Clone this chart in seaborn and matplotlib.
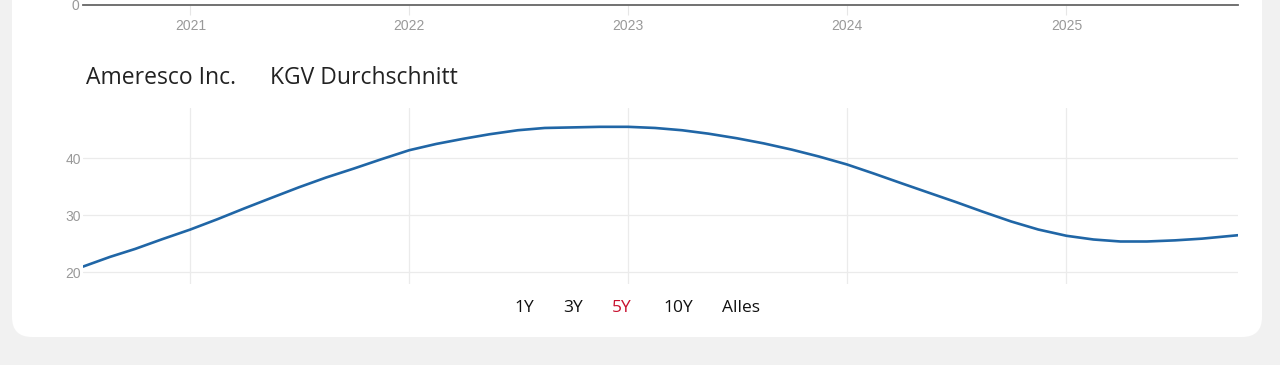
import matplotlib
matplotlib.use("Agg")
import matplotlib.pyplot as plt
from matplotlib.patches import FancyBboxPatch
import pandas as pd
import seaborn as sns

# ---- data ----
dates = ["2020-07-06", "2020-08-20", "2020-10-01", "2020-11-15", "2021-01-01",
         "2021-02-15", "2021-04-01", "2021-05-15", "2021-07-01", "2021-08-15",
         "2021-10-01", "2021-11-15", "2022-01-01", "2022-02-15", "2022-04-01",
         "2022-05-15", "2022-07-01", "2022-08-15", "2022-10-01", "2022-11-15",
         "2023-01-01", "2023-02-15", "2023-04-01", "2023-05-15", "2023-07-01",
         "2023-08-15", "2023-10-01", "2023-11-15", "2024-01-01", "2024-02-15",
         "2024-04-01", "2024-05-15", "2024-07-01", "2024-08-15", "2024-10-01",
         "2024-11-15", "2025-01-01", "2025-02-15", "2025-04-01", "2025-05-15",
         "2025-07-01", "2025-08-15", "2025-10-14"]
kgv = [21.0, 22.7, 24.1, 25.8, 27.5,
       29.3, 31.2, 33.0, 34.9, 36.6,
       38.2, 39.8, 41.4, 42.5, 43.4,
       44.2, 44.9, 45.3, 45.4, 45.5,
       45.5, 45.3, 44.9, 44.3, 43.5,
       42.6, 41.5, 40.3, 38.9, 37.3,
       35.6, 34.0, 32.3, 30.6, 28.9,
       27.5, 26.4, 25.75, 25.4, 25.4,
       25.6, 25.9, 26.5]
year_ticks = ["2021", "2022", "2023", "2024", "2025"]
y_ticks = [20, 30, 40]
company = "Ameresco Inc."
metric = "KGV Durchschnitt"
buttons = ["1Y", "3Y", "5Y", "10Y", "Alles"]
active_button = "5Y"

df = pd.DataFrame({"Datum": pd.to_datetime(dates), "KGV": kgv})

sns.set_theme(style="white")
plt.rcParams["font.family"] = ["Open Sans", "DejaVu Sans"]
TICK_FONT = ["Liberation Sans", "DejaVu Sans"]

W, H = 1280, 365
fig = plt.figure(figsize=(W / 100, H / 100), dpi=100)
fig.patch.set_facecolor("#f1f1f1")

# background card
bg = fig.add_axes([0, 0, 1, 1], zorder=-5)
bg.set_xlim(0, W)
bg.set_ylim(H, 0)
bg.axis("off")
bg.add_patch(FancyBboxPatch((12, -60), 1250, 397,
                            boxstyle="round,pad=0,rounding_size=20",
                            facecolor="white", edgecolor="none"))


def px_rect(x0, y0, x1, y1):
    return [x0 / W, 1 - y1 / H, (x1 - x0) / W, (y1 - y0) / H]


xmin = pd.Timestamp("2020-07-06")
xmax = pd.Timestamp("2025-10-14")
tick_dates = pd.to_datetime([f"{y}-01-01" for y in year_ticks])

# ---- top (partially visible) chart ----
axt = fig.add_axes(px_rect(83, -100, 1238, 5))
axt.set_facecolor("none")
axt.set_xlim(xmin, xmax)
axt.set_ylim(0, 10)
for s in ["top", "right", "left"]:
    axt.spines[s].set_visible(False)
axt.spines["bottom"].set_color("#666666")
axt.spines["bottom"].set_linewidth(1.3)
axt.set_xticks(tick_dates)
axt.set_xticklabels(year_ticks, family=TICK_FONT)
axt.set_yticks([0])
axt.set_yticklabels(["0"], family=TICK_FONT)
axt.tick_params(axis="x", length=7.5, width=0.8, color="#e6e6e6",
                labelsize=10, labelcolor="#999999", pad=2.5, bottom=True)
axt.tick_params(axis="y", length=0, labelsize=10, labelcolor="#999999", pad=3, left=True)
axt.grid(False)

# ---- main chart ----
ax = fig.add_axes(px_rect(83, 108, 1238, 284))
ax.set_facecolor("none")
sns.lineplot(data=df, x="Datum", y="KGV", ax=ax, color="#2066a6", linewidth=1.9)
ax.set_xlim(xmin, xmax)
ax.set_ylim(17.95, 48.8)
ax.set_xticks(tick_dates)
ax.set_xticklabels([])
ax.set_yticks(y_ticks)
ax.set_yticklabels([str(v) for v in y_ticks], family=TICK_FONT)
ax.tick_params(axis="y", length=0, labelsize=10, labelcolor="#999999", pad=1.5)
ax.tick_params(axis="x", length=0)
ax.grid(True, color="#ebebeb", linewidth=0.9)
ax.set_axisbelow(True)
for s in ax.spines.values():
    s.set_visible(False)
ax.set_xlabel("")
ax.set_ylabel("")

# ---- titles ----
fig.text(86 / W, 1 - 78.5 / H, company, fontsize=16.5, color="#222222",
         ha="left", va="center")
fig.text(270 / W, 1 - 78.5 / H, metric, fontsize=16.5, color="#222222",
         ha="left", va="center")

# ---- range buttons ----
btn_x = [524, 573, 622, 678, 741]
for label, bx in zip(buttons, btn_x):
    fig.text(bx / W, 1 - 308 / H, label, fontsize=12.5,
             color="#c8102e" if label == active_button else "#111111",
             ha="center", va="center")

fig.savefig("out.png", dpi=100, facecolor=fig.get_facecolor())
